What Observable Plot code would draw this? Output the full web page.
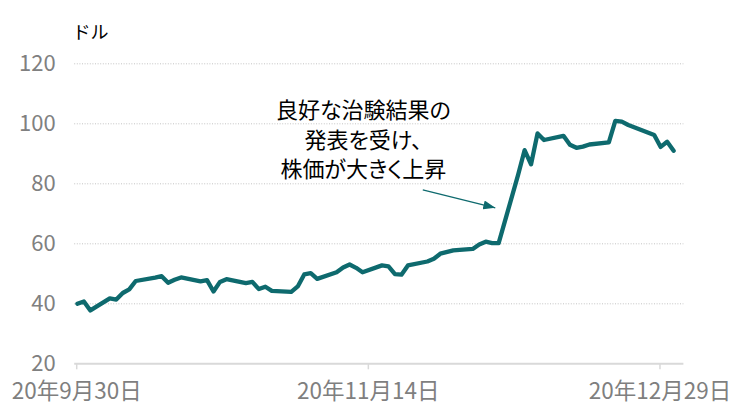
<!DOCTYPE html>
<html><head><meta charset="utf-8">
<script src="https://cdn.jsdelivr.net/npm/d3@7"></script>
<script src="https://cdn.jsdelivr.net/npm/@observablehq/plot@0.6"></script>
<style>body{margin:0;background:#fff;} svg{display:block;}</style>
</head><body><div id="chart"></div>
<script>
const dates = ["2020-09-30","2020-10-01","2020-10-02","2020-10-05","2020-10-06","2020-10-07","2020-10-08","2020-10-09","2020-10-12","2020-10-13","2020-10-14","2020-10-15","2020-10-16","2020-10-19","2020-10-20","2020-10-21","2020-10-22","2020-10-23","2020-10-26","2020-10-27","2020-10-28","2020-10-29","2020-10-30","2020-11-02","2020-11-03","2020-11-04","2020-11-05","2020-11-06","2020-11-09","2020-11-10","2020-11-11","2020-11-12","2020-11-13","2020-11-16","2020-11-17","2020-11-18","2020-11-19","2020-11-20","2020-11-23","2020-11-24","2020-11-25","2020-11-27","2020-11-30","2020-12-01","2020-12-02","2020-12-03","2020-12-04","2020-12-07","2020-12-08","2020-12-09","2020-12-10","2020-12-11","2020-12-14","2020-12-15","2020-12-16","2020-12-17","2020-12-18","2020-12-21","2020-12-22","2020-12-23","2020-12-24","2020-12-28","2020-12-29","2020-12-30","2020-12-31"];
const prices = [40.0,40.8,37.8,41.8,41.4,43.6,44.8,47.6,48.7,49.2,47.0,48.0,48.8,47.5,47.9,44.1,47.3,48.2,46.9,47.3,44.9,45.7,44.3,44.0,45.8,49.8,50.2,48.3,50.5,52.1,53.1,52.0,50.5,52.8,52.5,49.9,49.7,52.8,54.1,55.0,56.7,57.8,58.3,59.8,60.7,60.2,60.2,83.0,91.2,86.5,96.8,94.6,96.0,93.0,92.0,92.4,93.1,93.8,101.0,100.7,99.6,96.3,92.3,94.0,91.0];
const xDomain = ["2020-09-30","2021-01-02"];
const xTickDates = ["2020-09-30","2020-11-14","2020-12-29"];
const xTickLabels = ["20年9月30日","20年11月14日","20年12月29日"];
const yTicks = [20,40,60,80,100,120];
const yUnit = "ドル";
const noteLines = ["良好な治験結果の","発表を受け、","株価が大きく上昇"];
const notePos = {date: "2020-11-13T13:00Z", value: 95.2};
const arrowFrom = {date: "2020-11-22T17:00Z", value: 78};
const arrowTo = {date: "2020-12-03T21:30Z", value: 72};

const teal = "#0e6a6e";
const table = dates.map((d, i) => ({time: new Date(d + "T10:00Z"), price: prices[i]}));
const tickTimes = xTickDates.map(d => new Date(d));
const labelByTime = new Map(tickTimes.map((t, i) => [+t, xTickLabels[i]]));

const plot = Plot.plot({
  width: 750,
  height: 414,
  marginLeft: 74.2,
  marginRight: 66.6,
  marginTop: 63.3,
  marginBottom: 50.7,
  style: {fontFamily: "'Noto Sans CJK JP', sans-serif", background: "#fff", overflow: "visible"},
  x: {type: "utc", domain: xDomain.map(d => new Date(d))},
  y: {domain: [20, 120]},
  marks: [
    Plot.ruleY(yTicks.filter(v => v > 20), {stroke: "#c4c4c4", strokeWidth: 1, strokeDasharray: "1,1.6"}),
    Plot.ruleY([20], {stroke: "#d9d9d9", strokeWidth: 2}),
    Plot.axisX({ticks: tickTimes, tickSize: 6, tickPadding: 13, stroke: "#d9d9d9", strokeWidth: 1.5,
      fill: "#7f7f7f", fontSize: 22.5, dx: 2, label: null, tickFormat: d => labelByTime.get(+d)}),
    Plot.axisY({ticks: yTicks, tickSize: 0, tickPadding: 19, fill: "#808080", fontSize: 22, label: null}),
    Plot.line(table, {x: "time", y: "price", stroke: teal, strokeWidth: 4.3}),
    Plot.link([{a: arrowFrom, b: arrowTo}], {
      x1: d => new Date(d.a.date), y1: d => d.a.value, x2: d => new Date(d.b.date), y2: d => d.b.value,
      stroke: teal, strokeWidth: 1.3}),
    Plot.text([noteLines.join("\n")], {x: () => new Date(notePos.date), y: () => notePos.value, text: d => d,
      fontSize: 22, lineHeight: 1.34, fill: "#000", textAnchor: "middle", lineAnchor: "middle"}),
    Plot.text([yUnit], {frameAnchor: "top-left", text: d => d, dx: -2.2, dy: -31, fontSize: 18, fill: "#000",
      textAnchor: "start", lineAnchor: "middle"})
  ]
});

const svg = d3.select(plot);
svg.selectAll("text").filter(function() { return this.textContent.includes(noteLines[0]); })
  .style("font-feature-settings", '"palt"');
const defs = svg.append("defs");
defs.append("marker").attr("id", "ahead").attr("viewBox", "0 0 12 9").attr("refX", 12).attr("refY", 4.5)
  .attr("markerWidth", 12).attr("markerHeight", 9).attr("markerUnits", "userSpaceOnUse").attr("orient", "auto")
  .append("path").attr("d", "M0,0L12,4.5L0,9Z").attr("fill", teal).attr("stroke", "none");
svg.selectAll('g[aria-label="link"] path, g[aria-label="link"] line').attr("marker-end", "url(#ahead)");
document.getElementById("chart").appendChild(plot);
</script>
</body></html>
